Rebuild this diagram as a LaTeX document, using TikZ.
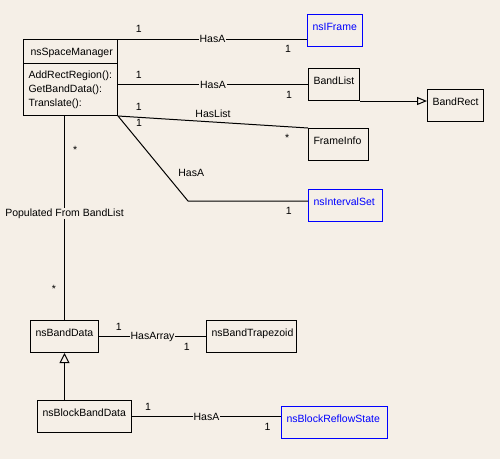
\documentclass[tikz,border=0pt]{standalone}
\usepackage{fontspec}
\setmainfont{Liberation Sans}
\usepackage{tikz}
\usetikzlibrary{arrows.meta, shapes.multipart}
\definecolor{paper}{RGB}{245,239,231}
\definecolor{extblue}{RGB}{0,0,255}
\hyphenpenalty=10000
\exhyphenpenalty=10000
\tikzset{
    every node/.style={font=\fontsize{10.5}{14}\selectfont},
    classbox/.style={draw, line width=1pt, anchor=north west, inner xsep=5pt, inner ysep=0pt,
        text height=15.5pt, text depth=16.5pt, text width=#1, align=left},
    extbox/.style={classbox=#1, draw=extblue, text=extblue},
    rel/.style={fill=paper, inner sep=1pt},
    mult/.style={inner sep=1pt},
    link/.style={line width=1pt},
    generalize/.style={link, -{Triangle[open, length=10pt, width=#1]}}
}

\begin{document}
\begin{tikzpicture}[x=1pt, y=-1pt]
        \path[use as bounding box, fill=paper] (0,0) rectangle (500,459);

        \node[draw, line width=1pt, rectangle split, rectangle split parts=2, anchor=north west,
            inner xsep=5pt, inner ysep=0pt, text width=84pt, align=left] (SM) at (23,39)
            {\rule[-7.5pt]{0pt}{23pt}\hspace*{2pt}nsSpaceManager
            \nodepart{two}\rule{0pt}{14.8pt}AddRectRegion():\\GetBandData():\\Translate():\rule[-8.2pt]{0pt}{8.2pt}};
        \node[extbox=45pt] (IF) at (307,14) {nsIFrame};
        \node[classbox=41pt] (BL) at (308,68) {BandList};
        \node[classbox=46pt] (BR) at (427,89) {BandRect};
        \node[classbox=50pt] (FI) at (308,128) {FrameInfo};
        \node[extbox=64pt] (IS) at (308,189) {nsIntervalSet};
        \node[classbox=58pt] (BD) at (30,320) {nsBandData};
        \node[classbox=80pt] (BT) at (206,320) {nsBandTrapezoid};
        \node[classbox=84pt] (BB) at (37,400) {nsBlockBandData};
        \node[extbox=96pt] (RS) at (281,406) {nsBlockReflowState};
        \coordinate (ISbend) at (188,201);

        \draw[link] (SM.north east) -- (SM.north east -| IF.west)
            node[rel, midway] (hasIF) {HasA}
            node[mult, pos=0.11, above=5pt] (mIFa) {1}
            node[mult, pos=0.9, below=5pt] (mIFb) {1};
        \draw[link] (BL.west -| SM.east) -- (BL.west)
            node[rel, midway] (hasBL) {HasA}
            node[mult, pos=0.11, above=5pt] (mBLa) {1}
            node[mult, pos=0.9, below=5pt] (mBLb) {1};
        \draw[link] (SM.south east) -- (FI.north west)
            node[mult, midway, above=3pt] (hasFI) {HasList}
            node[mult, pos=0.11, above=5pt] (mFIa) {1}
            node[mult, pos=0.89, below=6pt] (mFIb) {*};
        \draw[link] (SM.south east)
            -- node[mult, pos=0.67, right=12pt] (hasIS) {HasA}
               node[mult, pos=0.08, right=11pt] (mISa) {1} (ISbend)
            -- (ISbend -| IS.west)
               node[mult, pos=0.84, below=5pt] (mISb) {1};
        \draw[link] (SM.south -| BD.north) -- (BD.north)
            node[rel, pos=0.478] (fill) {Populated From BandList}
            node[mult, pos=0.165, right=7pt] (mBDa) {*}
            node[mult, pos=0.847, left=7pt] (mBDb) {*};
        \draw[generalize=8pt] (BL.south east) -- (BL.south east -| BR.west);
        \draw[link] (BD) -- (BT)
            node[rel, midway] (hasBT) {HasArray}
            node[mult, pos=0.185, above=5pt] (mBTa) {1}
            node[mult, pos=0.82, below=5pt] (mBTb) {1};
        \draw[generalize=10pt] (BB.north -| BD.south) -- (BD.south);
        \draw[link] (BB.east) -- (BB.east -| RS.west)
            node[rel, midway] (hasRS) {HasA}
            node[mult, pos=0.107, above=5pt] (mRSa) {1}
            node[mult, pos=0.91, below=5pt] (mRSb) {1};
    \end{tikzpicture}
\end{document}
